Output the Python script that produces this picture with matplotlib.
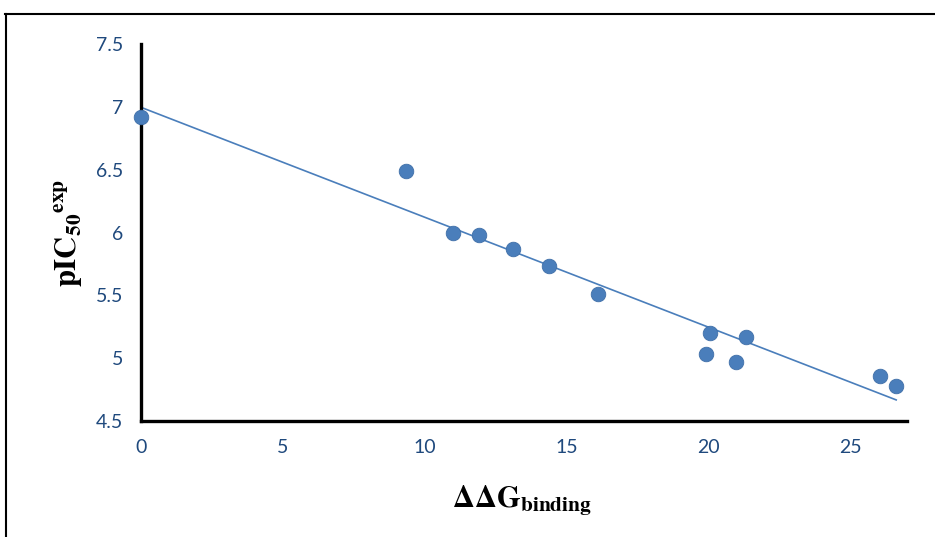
import numpy as np
import matplotlib.pyplot as plt
from matplotlib.lines import Line2D

# binding free energy vs experimental pIC50
dG = [0.0, 9.34, 11.0, 11.92, 13.12, 14.39, 16.11, 20.06, 19.92, 21.33, 20.98, 26.06, 26.62]
pIC50 = [6.92, 6.49, 6.00, 5.98, 5.87, 5.73, 5.51, 5.20, 5.03, 5.17, 4.97, 4.86, 4.78]

xticks = [0, 5, 10, 15, 20, 25]
yticks = [4.5, 5, 5.5, 6, 6.5, 7, 7.5]
ytick_labels = ['4.5', '5', '5.5', '6', '6.5', '7', '7.5']

blue = '#4A7EBB'
tick_col = '#1F497D'

plt.rcParams['mathtext.fontset'] = 'stix'

fig = plt.figure(figsize=(9.35, 5.37), dpi=100)
ax = fig.add_axes([0.1508, 0.216, 0.8192, 0.702])

# linear trendline (least squares)
slope, icpt = np.polyfit(dG, pIC50, 1)
xl = np.array([0, max(dG)])
ax.plot(xl, icpt + slope * xl, color=blue, lw=1.2, zorder=2)
ax.scatter(dG, pIC50, s=110, color=blue, edgecolors='#3F6FA8', linewidths=0.6, zorder=3,
           clip_on=False)

ax.set_xlim(0, 27.0)
ax.set_ylim(4.5, 7.5)
ax.set_xticks(xticks)
ax.set_yticks(yticks)
ax.set_yticklabels(ytick_labels)

for s in ['top', 'right']:
    ax.spines[s].set_visible(False)
for s in ['left', 'bottom']:
    ax.spines[s].set_linewidth(2.4)
    ax.spines[s].set_color('black')

ax.tick_params(axis='both', length=0, labelsize=14, labelcolor=tick_col)
ax.tick_params(axis='y', pad=13)
ax.tick_params(axis='x', pad=13)
for lab in ax.get_xticklabels() + ax.get_yticklabels():
    lab.set_family('Lato')

fig.text(0.558, 0.068, r'$\mathbf{\Delta\Delta G_{binding}}$', fontsize=22,
         ha='center', va='center')
fig.text(0.074, 0.566, r'$\mathbf{pIC_{50}{}^{exp}}$', fontsize=22,
         ha='center', va='center', rotation=90)

# partial frame around the chart
fig.add_artist(Line2D([6 / 935, 6 / 935], [0, 1 - 14 / 537], color='black', lw=1.5,
                      transform=fig.transFigure))
fig.add_artist(Line2D([5 / 935, 1], [1 - 14 / 537, 1 - 14 / 537], color='black', lw=1.5,
                      transform=fig.transFigure))

fig.savefig('out.png', dpi=100)
